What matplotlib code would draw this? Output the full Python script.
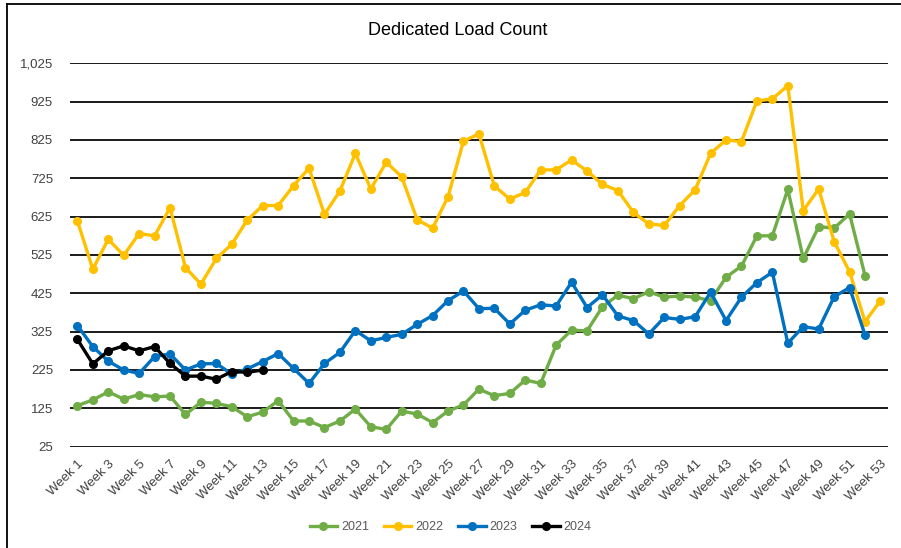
import matplotlib
matplotlib.use('Agg')
import matplotlib.pyplot as plt
from matplotlib.lines import Line2D
from matplotlib.ticker import FuncFormatter
import numpy as np

plt.rcParams['font.family'] = ['Liberation Sans', 'DejaVu Sans']

weeks = np.arange(1, 54)

load2021 = [132, 147, 168, 149, 161, 155, 157, 109, 141, 138, 129, 103, 115, 145, 92, 92, 75, 92,
            123, 77, 70, 118, 110, 88, 118, 134, 175, 158, 164, 199, 190, 290, 329, 327, 390, 420,
            411, 429, 415, 418, 415, 406, 467, 496, 575, 575, 696, 516, 599, 595, 632, 471]
load2022 = [614, 488, 566, 524, 581, 575, 648, 492, 449, 516, 553, 616, 654, 654, 706, 751, 631, 692,
            790, 697, 767, 729, 617, 595, 677, 822, 841, 705, 671, 688, 747, 747, 773, 744, 709, 693,
            636, 606, 602, 654, 695, 790, 825, 821, 927, 932, 967, 641, 697, 560, 481, 351, 406]
load2023 = [341, 286, 248, 225, 216, 260, 267, 225, 241, 242, 214, 228, 247, 268, 229, 190, 242, 271,
            328, 301, 310, 318, 344, 367, 406, 431, 385, 386, 345, 381, 395, 392, 454, 388, 421, 366,
            354, 319, 362, 357, 364, 428, 354, 415, 453, 480, 295, 338, 332, 416, 440, 316]
load2024 = [305, 241, 275, 288, 275, 286, 242, 209, 209, 201, 221, 219, 225]

series = [('2021', load2021, '#70AD47'),
          ('2022', load2022, '#FFC000'),
          ('2023', load2023, '#0070C0'),
          ('2024', load2024, '#000000')]

fig = plt.figure(figsize=(9.01, 5.48), dpi=100)
ax = fig.add_axes([0.0773, 0.1849, 0.9085, 0.6996])

handles = []
for name, vals, col in series:
    ax.plot(weeks[:len(vals)], vals, color=col, lw=2.4, marker='o', markersize=5.5,
            markeredgecolor=col, markerfacecolor=col, solid_capstyle='round', zorder=3)
    handles.append(Line2D([], [], color=col, lw=2.4, marker='o', markersize=5.5))

ax.set_xlim(0.5, 53.5)
ax.set_ylim(25, 1025)
ax.set_yticks(np.arange(25, 1026, 100))
ax.yaxis.set_major_formatter(FuncFormatter(lambda v, p: '{:,.0f}'.format(v)))
ax.yaxis.grid(True, color='#1a1a1a', lw=1.4)
ax.set_axisbelow(True)
for s in ax.spines.values():
    s.set_visible(False)
ax.tick_params(axis='both', length=0, labelsize=9.5, colors='#404040')
ax.tick_params(axis='y', pad=12)

xt = weeks[::2]
ax.set_xticks(xt)
ax.set_xticklabels(['Week %d' % w for w in xt], rotation=45, ha='right',
                   rotation_mode='anchor', fontsize=9.5)
ax.tick_params(axis='x', pad=8)

fig.text(0.508, 0.945, 'Dedicated Load Count', ha='center', va='center',
         fontsize=13, color='#000000')

fig.legend(handles, [s[0] for s in series], loc='center', bbox_to_anchor=(0.5, 0.038),
           ncol=4, frameon=False, fontsize=9, handlelength=2.2, columnspacing=1.2,
           handletextpad=0.3, labelcolor='#595959')

# chart border (only top and left edges are visible in the screenshot)
fig.add_artist(Line2D([7 / 901, 7 / 901], [0, 1 - 4 / 548], transform=fig.transFigure,
                      color='#000000', lw=1.3))
fig.add_artist(Line2D([7 / 901, 1], [1 - 4 / 548, 1 - 4 / 548], transform=fig.transFigure,
                      color='#000000', lw=1.3))

plt.savefig('out.png', dpi=100)
